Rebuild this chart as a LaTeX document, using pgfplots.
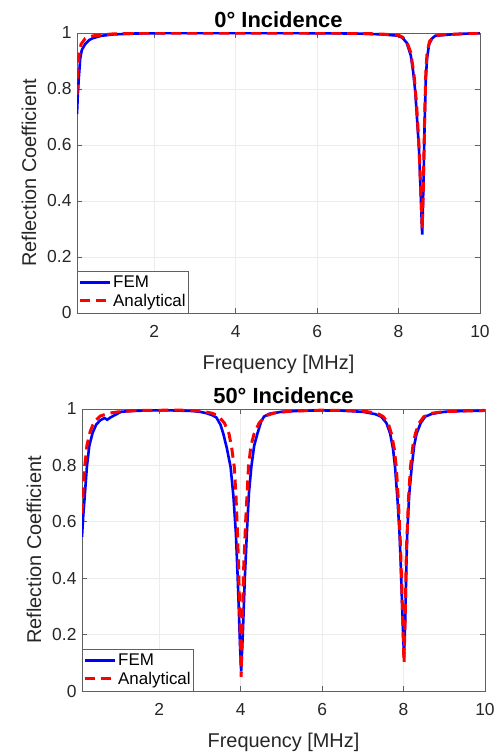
\documentclass[border=0pt]{standalone}
\usepackage{fontspec}
\setmainfont{Liberation Sans}
\usepackage{pgfplots}
\pgfplotsset{compat=1.18}
\usepackage{pgfplotstable}

% top panel (0 deg)
\pgfplotstableread{
f r
0.10 0.710
0.12 0.780
0.15 0.850
0.18 0.910
0.22 0.940
0.30 0.960
0.40 0.975
0.50 0.982
0.70 0.990
1.00 0.995
1.50 0.998
2.00 0.999
3.00 1.000
5.00 1.000
7.00 0.998
7.60 0.995
8.00 0.990
8.10 0.982
8.20 0.965
8.30 0.920
8.36 0.860
8.41 0.790
8.46 0.680
8.50 0.590
8.53 0.480
8.56 0.360
8.58 0.280
8.61 0.450
8.64 0.680
8.67 0.840
8.70 0.910
8.75 0.960
8.82 0.980
8.90 0.990
9.30 0.995
9.70 0.998
10.0 0.999
}\femA
\pgfplotstableread{
f r
0.10 0.780
0.12 0.860
0.15 0.920
0.20 0.960
0.30 0.980
0.50 0.990
1.00 0.997
2.00 1.000
7.00 0.999
7.60 0.996
8.00 0.992
8.10 0.985
8.20 0.970
8.30 0.930
8.38 0.850
8.44 0.750
8.50 0.600
8.55 0.420
8.58 0.300
8.61 0.460
8.64 0.700
8.67 0.860
8.70 0.930
8.76 0.970
8.85 0.985
9.00 0.993
10.0 1.000
}\anaA

% bottom panel (50 deg)
\pgfplotstableread{
f r
0.10 0.547
0.13 0.620
0.16 0.677
0.22 0.795
0.28 0.870
0.36 0.915
0.45 0.945
0.55 0.960
0.65 0.968
0.72 0.962
0.80 0.970
0.90 0.978
1.06 0.990
1.30 0.993
1.80 0.995
2.30 0.995
2.80 0.993
3.00 0.990
3.16 0.985
3.30 0.978
3.40 0.970
3.50 0.945
3.57 0.913
3.66 0.860
3.75 0.795
3.82 0.690
3.88 0.560
3.92 0.420
3.95 0.300
3.98 0.170
4.01 0.070
4.05 0.200
4.10 0.400
4.15 0.560
4.20 0.700
4.26 0.795
4.33 0.870
4.41 0.913
4.50 0.955
4.57 0.973
4.70 0.983
5.00 0.990
5.50 0.994
6.00 0.995
6.50 0.994
7.00 0.990
7.30 0.982
7.45 0.973
7.58 0.950
7.67 0.913
7.74 0.860
7.79 0.795
7.85 0.680
7.90 0.560
7.93 0.450
7.96 0.320
7.99 0.200
8.01 0.120
8.04 0.250
8.07 0.450
8.09 0.560
8.14 0.700
8.20 0.795
8.26 0.870
8.32 0.913
8.42 0.950
8.53 0.973
8.70 0.983
9.00 0.990
9.50 0.993
10.0 0.994
}\femB
\pgfplotstableread{
f r
0.10 0.630
0.13 0.720
0.17 0.800
0.22 0.870
0.30 0.920
0.40 0.955
0.55 0.975
0.75 0.985
1.00 0.990
1.50 0.995
2.50 0.996
3.00 0.993
3.30 0.985
3.45 0.975
3.60 0.950
3.71 0.913
3.78 0.860
3.84 0.795
3.88 0.700
3.92 0.560
3.95 0.420
3.98 0.250
4.01 0.050
4.04 0.250
4.07 0.430
4.12 0.600
4.19 0.795
4.25 0.870
4.33 0.913
4.45 0.950
4.60 0.975
4.80 0.985
5.20 0.992
6.00 0.996
7.00 0.993
7.35 0.985
7.50 0.973
7.62 0.950
7.70 0.913
7.77 0.860
7.82 0.795
7.87 0.680
7.92 0.530
7.96 0.350
7.99 0.200
8.01 0.100
8.04 0.270
8.07 0.500
8.12 0.680
8.17 0.795
8.23 0.870
8.29 0.913
8.38 0.950
8.50 0.973
8.70 0.985
9.00 0.991
10.0 0.995
}\anaB

\pgfplotsset{
  panel/.style={
    scale only axis,
    width=403bp, height=280bp,
    xmin=0.1, xmax=10, ymin=0, ymax=1,
    xtick={2,4,6,8,10},
    ytick={0,0.2,0.4,0.6,0.8,1},
    grid=major,
    grid style={gray!15, line width=0.6bp},
    axis line style={gray!75!black, line width=0.8bp},
    tick style={gray!75!black, line width=0.8bp},
    tick align=inside, tick pos=both, major tick length=5bp,
    /pgf/number format/assume math mode=true,
    tick label style={font=\fontsize{17.5}{20}\selectfont, text=black!85},
    x tick label style={yshift=-9bp},
    y tick label style={xshift=-2bp},
    label style={font=\fontsize{20}{23}\selectfont, text=black!85},
    xlabel style={yshift=-10bp},
    ylabel style={yshift=4bp},
    title style={font=\fontsize{22}{25}\selectfont\bfseries, yshift=-4bp},
    xlabel={Frequency [MHz]},
    ylabel={Reflection Coefficient},
    legend cell align=left,
    legend style={at={(0,0)}, anchor=south west, draw=gray!75!black,
      font=\fontsize{17}{19}\selectfont, inner xsep=1bp, inner ysep=3bp,
      row sep=1bp},
    legend image code/.code={\draw[#1] (0bp,0bp) -- (30bp,0bp);},
  },
  fem/.style={blue, line width=2.6bp},
  ana/.style={red, line width=3bp, dash pattern=on 10bp off 6bp},
}

\begin{document}
\begin{tikzpicture}
\useasboundingbox (0,0) rectangle (500bp,754bp);
\begin{axis}[panel, at={(77bp,441bp)}, anchor=south west, title={0° Incidence}]
\addplot[fem] table[x=f,y=r] {\femA};
\addplot[ana] table[x=f,y=r] {\anaA};
\legend{FEM, Analytical}
\end{axis}
\begin{axis}[panel, height=282bp, at={(82bp,63bp)}, anchor=south west, title={50° Incidence}]
\addplot[fem] table[x=f,y=r] {\femB};
\addplot[ana] table[x=f,y=r] {\anaB};
\legend{FEM, Analytical}
\end{axis}
\end{tikzpicture}
\end{document}
